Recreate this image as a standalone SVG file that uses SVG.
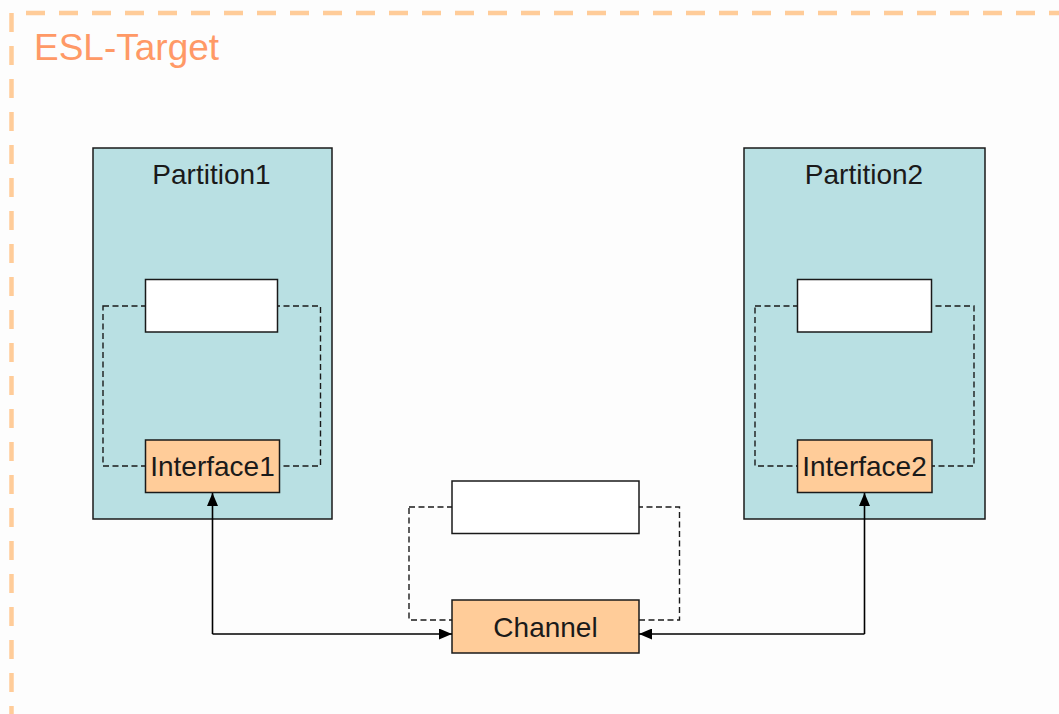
<svg xmlns="http://www.w3.org/2000/svg" width="1059" height="714" viewBox="0 0 1059 714">
  <style>
    .frame { fill: none; stroke: #FFCC99; stroke-width: 4.5; stroke-dasharray: 19 14; }
    .title { font-family: "Liberation Sans", Arial, sans-serif; font-size: 37px; fill: #FF9966; }
    .part { fill: #B9E0E3; stroke: #1a1a1a; stroke-width: 1.5; }
    .slot { fill: #ffffff; stroke: #1a1a1a; stroke-width: 1.5; }
    .port { fill: #FFCC99; stroke: #1a1a1a; stroke-width: 1.5; }
    .loop { fill: none; stroke: #1a1a1a; stroke-width: 1.4; stroke-dasharray: 6 3.5; }
    .label { font-family: "Liberation Sans", Arial, sans-serif; font-size: 28px; fill: #1a1a1a; text-anchor: middle; }
    .wire { fill: none; stroke: #000000; stroke-width: 1.6; }
  </style>
  <defs>
    <marker id="arrow" viewBox="0 0 13 11" refX="13" refY="5.5" markerWidth="13" markerHeight="11" markerUnits="userSpaceOnUse" orient="auto">
      <path d="M0,0 L13,5.5 L0,11 z" fill="#000000"/>
    </marker>
  </defs>

  <rect x="0" y="0" width="1059" height="714" fill="#FDFDFD"/>

  <!-- outer target boundary -->
  <g id="esl-target">
    <path class="frame" d="M26,13 H1059"/>
    <path class="frame" d="M11.5,13 V714"/>
    <text class="title" x="34" y="60">ESL-Target</text>
  </g>

  <!-- Partition 1 -->
  <g id="partition1">
    <rect class="part" x="93" y="148" width="239" height="371"/>
    <text class="label" x="211.5" y="184" font-size="29">Partition1</text>
    <rect class="loop" x="103" y="306" width="217.5" height="160"/>
    <rect class="slot" x="145.5" y="279.5" width="132" height="52.5"/>
  </g>
  <g id="interface1">
    <rect class="port" x="145.5" y="440" width="134" height="52.5"/>
    <text class="label" x="212.5" y="476">Interface1</text>
  </g>

  <!-- Partition 2 -->
  <g id="partition2">
    <rect class="part" x="744" y="148" width="241" height="371"/>
    <text class="label" x="864" y="184" font-size="29">Partition2</text>
    <rect class="loop" x="755" y="306" width="219" height="160"/>
    <rect class="slot" x="797.5" y="279.5" width="134" height="52.5"/>
  </g>
  <g id="interface2">
    <rect class="port" x="797.5" y="440" width="134.5" height="52.5"/>
    <text class="label" x="864.5" y="476">Interface2</text>
  </g>

  <!-- Channel -->
  <g id="channel-slot">
    <rect class="loop" x="409" y="507" width="270.5" height="113"/>
    <rect class="slot" x="452" y="481" width="187" height="52.5"/>
  </g>
  <g id="channel">
    <rect class="port" x="452" y="600" width="187" height="53"/>
    <text class="label" x="545.5" y="637">Channel</text>
  </g>

  <!-- connectors -->
  <g id="connectors">
    <path class="wire" d="M212.5,634 H452" marker-end="url(#arrow)"/>
    <path class="wire" d="M212.5,634 V493" marker-end="url(#arrow)"/>
    <path class="wire" d="M864.5,634 H639" marker-end="url(#arrow)"/>
    <path class="wire" d="M864.5,634 V493" marker-end="url(#arrow)"/>
  </g>
</svg>
